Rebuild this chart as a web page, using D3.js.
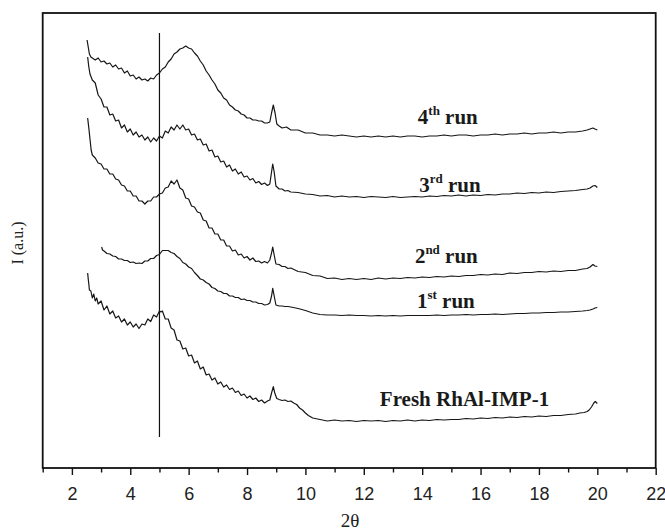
<!DOCTYPE html>
<html>
<head>
<meta charset="utf-8">
<script src="https://cdn.jsdelivr.net/npm/d3@7"></script>
<style>
  body { margin: 0; background: #fff; }
  svg { display: block; }
</style>
</head>
<body>
<svg id="chart" width="665" height="532"></svg>
<script>
// XRD patterns, [2θ, intensity (a.u., stacked offsets included)]
const run4 = [[2.52,428],[2.56,421],[2.6,414],[2.65,411],[2.7,410],[2.8,408],[2.9,410],[3.0,406],[3.1,407],[3.2,404],[3.3,405],[3.4,401],[3.5,403],[3.6,399],[3.7,400],[3.8,395],[3.9,397],[4.0,392],[4.1,393],[4.2,389],[4.3,391],[4.4,388],[4.5,389],[4.6,387],[4.7,390],[4.8,389],[4.9,393],[5.0,395],[5.1,399],[5.2,401],[5.3,406],[5.4,409],[5.5,414],[5.6,416],[5.7,419],[5.8,420],[5.9,422],[6.0,420],[6.1,419],[6.2,415],[6.3,412],[6.4,407],[6.5,403],[6.6,397],[6.7,393],[6.8,388],[6.9,384],[7.0,378],[7.1,375],[7.2,370],[7.3,368],[7.4,363],[7.5,361],[7.6,358],[7.7,357],[7.8,354],[7.9,353],[8.0,350],[8.1,350],[8.2,348],[8.3,348],[8.4,347],[8.5,347],[8.6,345],[8.7,345],[8.78,346],[8.84,355],[8.9,363],[8.96,355],[9.02,344],[9.1,342],[9.2,340],[9.35,341],[9.5,338],[9.75,338],[10.0,335],[10.25,335],[10.5,333],[10.75,333],[11.0,332],[11.25,333],[11.5,332],[11.75,331],[12.0,332],[12.25,331],[12.5,332],[12.75,331],[13.0,332],[13.25,331],[13.5,332],[13.75,332],[14.0,331],[14.25,332],[14.5,332],[14.75,333],[15.0,332],[15.25,333],[15.5,333],[15.75,332],[16.0,333],[16.25,333],[16.5,334],[16.75,333],[17.0,334],[17.25,334],[17.5,335],[17.75,334],[18.0,335],[18.25,335],[18.5,336],[18.75,335],[19.0,336],[19.25,336],[19.5,337],[19.65,338],[19.75,339],[19.85,340],[19.92,339],[20.0,338]];

const run3 = [[2.54,411],[2.58,401],[2.62,394],[2.66,391],[2.7,388],[2.8,385],[2.9,373],[3.0,369],[3.1,361],[3.2,361],[3.3,353],[3.4,354],[3.5,347],[3.6,348],[3.7,340],[3.8,343],[3.9,336],[4.0,339],[4.1,333],[4.2,336],[4.3,331],[4.4,333],[4.5,328],[4.6,331],[4.7,326],[4.8,330],[4.9,327],[5.0,332],[5.1,330],[5.2,337],[5.3,335],[5.4,341],[5.5,338],[5.6,343],[5.7,339],[5.8,343],[5.9,338],[6.0,339],[6.1,333],[6.2,334],[6.3,328],[6.4,329],[6.5,323],[6.6,324],[6.7,317],[6.8,318],[6.9,311],[7.0,312],[7.1,306],[7.2,307],[7.3,301],[7.4,303],[7.5,297],[7.6,299],[7.7,294],[7.8,296],[7.9,291],[8.0,292],[8.1,288],[8.2,289.5],[8.3,285],[8.4,286.5],[8.5,283.5],[8.6,285],[8.7,282.5],[8.78,284],[8.84,296],[8.88,304],[8.93,296],[8.99,282],[9.1,279],[9.2,279],[9.3,277],[9.4,277.5],[9.5,276],[9.75,275.5],[10.0,274],[10.25,273.5],[10.5,272],[10.75,272.5],[11.0,271],[11.25,272],[11.5,271],[11.75,271.5],[12.0,270.5],[12.25,271.5],[12.5,271],[12.75,270.5],[13.0,271.5],[13.25,270.5],[13.5,271],[13.75,271.5],[14.0,271],[14.25,272],[14.5,271.5],[14.75,272.5],[15.0,272],[15.25,273],[15.5,272],[15.75,273],[16.0,272.5],[16.25,273.5],[16.5,273],[16.75,274],[17.0,274],[17.25,275],[17.5,274.5],[17.75,275.5],[18.0,275],[18.25,276],[18.5,275.5],[18.75,276.5],[19.0,277],[19.25,277.5],[19.5,278.5],[19.65,279],[19.75,280],[19.85,282],[19.92,282.5],[20.0,280.5]];

const run2 = [[2.54,350],[2.58,340],[2.62,329],[2.66,318],[2.7,313],[2.8,310],[2.9,305],[3.0,304],[3.1,299],[3.2,299],[3.3,294],[3.4,294],[3.5,289],[3.6,288],[3.7,283],[3.8,282],[3.9,277],[4.0,277],[4.1,272],[4.2,272],[4.3,267],[4.4,267],[4.5,264],[4.6,267],[4.7,267],[4.8,271],[4.9,271],[5.0,274],[5.1,275],[5.2,280],[5.3,281],[5.4,287],[5.5,284],[5.6,288],[5.7,280],[5.8,278],[5.9,270],[6.0,269],[6.1,262],[6.2,261],[6.3,256],[6.4,255],[6.5,248],[6.6,247],[6.7,240],[6.8,240],[6.9,234],[7.0,234],[7.1,228],[7.2,228],[7.3,222],[7.4,222],[7.5,217],[7.6,218],[7.7,213],[7.8,214],[7.9,210],[8.0,211.5],[8.1,208],[8.2,210],[8.3,206.5],[8.4,207],[8.5,205],[8.6,206.5],[8.7,205],[8.78,208],[8.84,215],[8.88,221],[8.93,213],[8.99,204],[9.1,203.5],[9.2,201.5],[9.3,201.5],[9.4,199.5],[9.5,200],[9.75,196.5],[10.0,195.5],[10.25,192.5],[10.5,192],[10.75,189.5],[11.0,190],[11.25,188.5],[11.5,189.5],[11.75,188.5],[12.0,189.5],[12.25,188.5],[12.5,190],[12.75,189],[13.0,190],[13.25,189.5],[13.5,190.5],[13.75,190],[14.0,191],[14.25,190.5],[14.5,191.5],[14.75,191],[15.0,192],[15.25,191.5],[15.5,192.5],[15.75,192.5],[16.0,193.5],[16.25,193],[16.5,194],[16.75,193.5],[17.0,195],[17.25,194.5],[17.5,195.5],[17.75,195.5],[18.0,196.5],[18.25,196],[18.5,197],[18.75,196.5],[19.0,197.5],[19.25,197.5],[19.5,199],[19.65,199.5],[19.75,201],[19.85,203.5],[19.92,202],[20.0,201.5]];

const run1 = [[3.02,221],[3.05,218],[3.1,217],[3.2,214.5],[3.3,214],[3.4,212],[3.5,211.5],[3.6,209],[3.7,209],[3.8,207.5],[3.9,207.5],[4.0,205.5],[4.1,206],[4.2,204.5],[4.3,205],[4.4,204.5],[4.5,207],[4.6,207],[4.7,209.5],[4.8,209.5],[4.9,212.5],[5.0,213.5],[5.1,217.5],[5.2,217.5],[5.3,217.5],[5.4,215.5],[5.5,214.5],[5.6,211.5],[5.7,209.5],[5.8,205.5],[5.9,204],[6.0,201],[6.1,199.5],[6.2,195.5],[6.3,192.5],[6.4,189],[6.5,188],[6.6,185.5],[6.7,184],[6.8,180.5],[6.9,179.5],[7.0,177],[7.1,176.5],[7.2,174.5],[7.3,174.5],[7.4,172],[7.5,172],[7.6,170.5],[7.7,170.5],[7.8,168.5],[7.9,169],[8.0,167.5],[8.1,167.5],[8.2,166],[8.3,166],[8.4,164.5],[8.5,164.5],[8.6,163],[8.7,163.5],[8.78,165],[8.84,172],[8.88,179.7],[8.93,172],[8.99,163],[9.1,162],[9.2,162],[9.3,161.5],[9.4,161.5],[9.5,161],[9.75,159.5],[10.0,157.5],[10.25,155],[10.5,153.5],[10.75,153],[11.0,153],[11.25,152.5],[11.5,153],[11.75,152.5],[12.0,152.5],[12.25,152],[12.5,152.5],[12.75,152],[13.0,152.5],[13.25,152],[13.5,152.5],[13.75,152.5],[14.0,152.5],[14.25,152.5],[14.5,153],[14.75,152.5],[15.0,153],[15.25,153],[15.5,153.5],[15.75,153],[16.0,153.5],[16.25,153.5],[16.5,154],[16.75,153.5],[17.0,154],[17.25,154.5],[17.5,154.5],[17.75,155],[18.0,155],[18.25,155.5],[18.5,155.5],[18.75,156],[19.0,156],[19.25,156.5],[19.5,157],[19.65,157.5],[19.75,158],[19.85,159],[19.92,160],[20.0,160.5]];

const fresh = [[2.54,195],[2.56,189],[2.58,184],[2.6,178],[2.65,177],[2.7,170],[2.75,174],[2.8,167],[2.85,170],[2.9,164],[3.0,167],[3.1,158],[3.2,162],[3.3,154],[3.4,157],[3.5,150],[3.6,152],[3.7,146],[3.8,149],[3.9,143],[4.0,146],[4.1,141],[4.2,144],[4.3,139.5],[4.4,144],[4.5,143],[4.6,149],[4.7,146.5],[4.8,153],[4.9,151],[5.0,157],[5.05,156],[5.1,157],[5.2,149],[5.3,149],[5.4,140],[5.5,138],[5.6,128],[5.7,127],[5.8,119],[5.9,120],[6.0,112],[6.1,113],[6.2,105],[6.3,107],[6.4,99],[6.5,101],[6.6,93],[6.7,94],[6.8,88],[6.9,90],[7.0,84],[7.1,86],[7.2,81],[7.3,83],[7.4,78.5],[7.5,80],[7.6,75.5],[7.7,77],[7.8,72.5],[7.9,74],[8.0,70],[8.1,72],[8.2,68.5],[8.3,70],[8.4,66.5],[8.5,68],[8.6,65],[8.7,67],[8.78,68],[8.84,75],[8.9,81.3],[8.95,75],[9.02,69.5],[9.1,68.5],[9.2,67.5],[9.3,68],[9.4,66.5],[9.5,67],[9.6,65],[9.7,63.5],[9.8,60],[9.9,58],[10.0,55],[10.1,52.5],[10.25,50],[10.5,48.5],[10.75,47],[11.0,48],[11.25,47],[11.5,47.5],[11.75,46.5],[12.0,47.5],[12.25,47],[12.5,47.5],[12.75,46.5],[13.0,47.5],[13.25,47],[13.5,48],[13.75,47],[14.0,48],[14.25,47.5],[14.5,48.5],[14.75,48],[15.0,48.5],[15.25,48.5],[15.5,49.5],[15.75,49],[16.0,50],[16.25,49.5],[16.5,50.5],[16.75,50],[17.0,51],[17.25,50.5],[17.5,51.5],[17.75,51],[18.0,52],[18.25,51.5],[18.5,52.5],[18.75,52.5],[19.0,53.5],[19.25,54],[19.4,55],[19.55,55.5],[19.65,56.5],[19.72,58],[19.8,61],[19.88,65],[19.93,66.5],[20.0,64.5]];

// curve captions: base text, superscript, trailing text, anchor [2θ, intensity]
const captionMain = ["4", "3", "2", "1", "Fresh RhAl-IMP-1"];
const captionSup  = ["th", "rd", "nd", "st", ""];
const captionTail = [" run", " run", " run", " run", ""];
const captionAt   = [[13.85, 344.5], [13.9, 276.5], [13.75, 204.7], [13.82, 159.7], [12.55, 62]];

const xMajorTicks = [2, 4, 6, 8, 10, 12, 14, 16, 18, 20, 22];
const xMinorTicks = [1, 3, 5, 7, 9, 11, 13, 15, 17, 19, 21];
const markerAngle = 5;            // reference line at 2θ = 5
const markerSpan = [31, 435];     // intensity extent of the reference line

const series = [run4, run3, run2, run1, fresh];

const svg = d3.select("#chart");
const x = d3.scaleLinear().domain([1, 22]).range([42.7, 655.7]);
const y = d3.scaleLinear().domain([0, 455]).range([468, 13]);

// minor ticks
svg.append("g")
  .attr("transform", `translate(0,${y(0)})`)
  .call(d3.axisBottom(x).tickValues(xMinorTicks).tickSize(4.5).tickFormat(""))
  .call(g => g.select(".domain").remove())
  .call(g => g.selectAll("line").attr("stroke", "#111").attr("stroke-width", 1.4));

// major ticks with labels
svg.append("g")
  .attr("transform", `translate(0,${y(0)})`)
  .call(d3.axisBottom(x).tickValues(xMajorTicks).tickSize(7).tickPadding(12).tickFormat(d3.format("d")))
  .call(g => g.select(".domain").remove())
  .call(g => g.selectAll("line").attr("stroke", "#111").attr("stroke-width", 1.4))
  .call(g => g.selectAll("text")
    .attr("font-family", "'Liberation Sans', Arial, sans-serif")
    .attr("font-size", 18)
    .attr("fill", "#222"));

// plot frame
svg.append("rect")
  .attr("x", x(1)).attr("y", y(455))
  .attr("width", x(22) - x(1)).attr("height", y(0) - y(455))
  .attr("fill", "none").attr("stroke", "#111").attr("stroke-width", 1.8);

// reference line
svg.append("line")
  .attr("x1", x(markerAngle)).attr("x2", x(markerAngle))
  .attr("y1", y(markerSpan[0])).attr("y2", y(markerSpan[1]))
  .attr("stroke", "#111").attr("stroke-width", 1.2);

// diffraction curves
const line = d3.line().x(d => x(d[0])).y(d => y(d[1]));
svg.append("g").selectAll("path")
  .data(series)
  .join("path")
  .attr("d", line)
  .attr("fill", "none")
  .attr("stroke", "#161616")
  .attr("stroke-width", 1.2)
  .attr("stroke-linejoin", "round");

// captions
const cap = svg.append("g")
  .attr("font-family", "'Liberation Serif', 'Times New Roman', serif")
  .attr("font-weight", "bold")
  .attr("font-size", 21)
  .attr("fill", "#1a1a1a");
captionMain.forEach((t, i) => {
  const tx = cap.append("text")
    .attr("x", x(captionAt[i][0]))
    .attr("y", y(captionAt[i][1]));
  tx.append("tspan").text(t);
  if (captionSup[i]) {
    tx.append("tspan").attr("font-size", 13).attr("dy", -9).text(captionSup[i]);
    tx.append("tspan").attr("dy", 9).text(captionTail[i]);
  }
});

// axis titles
svg.append("text")
  .attr("x", 350).attr("y", 527)
  .attr("text-anchor", "middle")
  .attr("font-family", "'Liberation Serif', 'Times New Roman', serif")
  .attr("font-size", 19)
  .attr("fill", "#222")
  .text("2θ");

svg.append("text")
  .attr("transform", "translate(22.5,243) rotate(-90)")
  .attr("text-anchor", "middle")
  .attr("font-family", "'Liberation Serif', 'Times New Roman', serif")
  .attr("font-size", 16)
  .attr("fill", "#222")
  .text("I (a.u.)");
</script>
</body>
</html>
